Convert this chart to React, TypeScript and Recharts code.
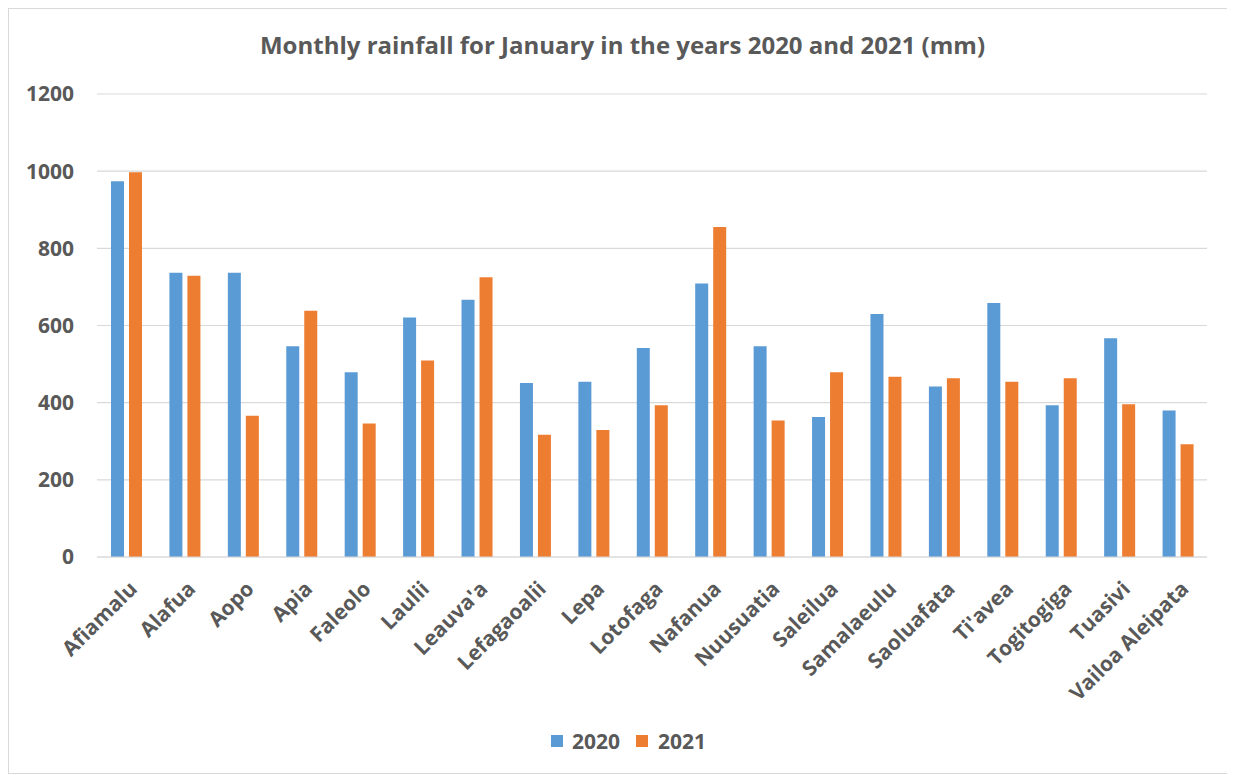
import React from "react";
import {
  BarChart,
  Bar,
  XAxis,
  YAxis,
  CartesianGrid,
  Legend,
} from "recharts";

const stations = [
  "Afiamalu",
  "Alafua",
  "Aopo",
  "Apia",
  "Faleolo",
  "Laulii",
  "Leauva'a",
  "Lefagaoalii",
  "Lepa",
  "Lotofaga",
  "Nafanua",
  "Nuusuatia",
  "Saleilua",
  "Samalaeulu",
  "Saoluafata",
  "Ti'avea",
  "Togitogiga",
  "Tuasivi",
  "Vailoa Aleipata",
];

const rain2020 = [974, 737, 737, 546, 479, 621, 667, 451, 454, 542, 709, 546, 363, 630, 442, 658, 393, 567, 380];
const rain2021 = [997, 729, 366, 638, 346, 509, 725, 317, 329, 393, 855, 354, 479, 467, 463, 454, 463, 396, 292];

const yTicks = [0, 200, 400, 600, 800, 1000, 1200];

const BLUE = "#5B9BD5";
const ORANGE = "#ED7D31";
const TEXT = "#595959";
const FONT = "'Open Sans', sans-serif";

const data = stations.map((name, i) => ({
  name,
  y2020: rain2020[i],
  y2021: rain2021[i],
}));

const StationTick = (props: any) => {
  const { x, y, payload } = props;
  const ax = x + 7;
  const ay = y + 28;
  return (
    <text
      x={ax}
      y={ay}
      dy="0.35em"
      textAnchor="end"
      transform={`rotate(-45, ${ax}, ${ay})`}
      fill={TEXT}
      fontSize={21}
      fontWeight={700}
      fontFamily={FONT}
    >
      {payload.value}
    </text>
  );
};

const LegendBox = () => (
  <div
    style={{
      display: "flex",
      alignItems: "center",
      height: 24,
      fontFamily: FONT,
      fontSize: 21,
      fontWeight: 700,
      color: TEXT,
    }}
  >
    <span style={{ width: 12, height: 12, background: BLUE, marginRight: 9 }} />
    <span style={{ marginRight: 16 }}>2020</span>
    <span style={{ width: 12, height: 12, background: ORANGE, marginRight: 10 }} />
    <span>2021</span>
  </div>
);

export default function App() {
  return (
    <div
      style={{
        position: "relative",
        width: 1219,
        height: 764,
        border: "1px solid #d9d9d9",
        background: "#fff",
      }}
    >
      <div
        style={{
          position: "absolute",
          top: 20,
          left: 0,
          width: 1227,
          textAlign: "center",
          fontFamily: FONT,
          fontSize: 24,
          fontWeight: 700,
          lineHeight: "32px",
          color: TEXT,
        }}
      >
        Monthly rainfall for January in the years 2020 and 2021 (mm)
      </div>
      <BarChart
        width={1219}
        height={764}
        data={data}
        margin={{ top: 85, right: 21, left: 0, bottom: 20 }}
        barGap={5}
        barSize={13}
      >
        <CartesianGrid vertical={false} stroke="#d9d9d9" strokeWidth={1.2} />
        <XAxis
          dataKey="name"
          interval={0}
          height={172}
          tickLine={false}
          tickSize={0}
          tickMargin={0}
          axisLine={{ stroke: "#d9d9d9", strokeWidth: 1.2 }}
          tick={<StationTick />}
        />
        <YAxis
          width={88}
          domain={[0, 1200]}
          ticks={yTicks}
          axisLine={false}
          tickLine={false}
          tickSize={0}
          tickMargin={23}
          tick={{ fill: TEXT, fontSize: 21, fontWeight: 700, fontFamily: FONT }}
        />
        <Legend
          verticalAlign="bottom"
          content={<LegendBox />}
          wrapperStyle={{ left: 542, width: 170 }}
        />
        <Bar dataKey="y2020" name="2020" fill={BLUE} isAnimationActive={false} />
        <Bar dataKey="y2021" name="2021" fill={ORANGE} isAnimationActive={false} />
      </BarChart>
    </div>
  );
}
